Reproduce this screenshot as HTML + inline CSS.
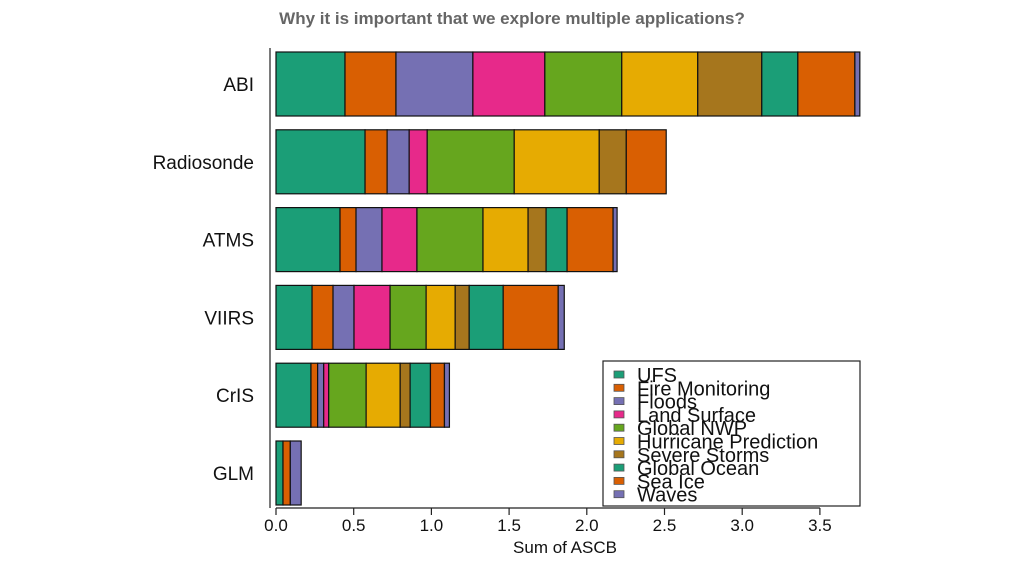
<!DOCTYPE html>
<html><head><meta charset="utf-8"><style>
body{margin:0;background:#fff;width:1024px;height:576px;overflow:hidden}
svg{display:block;font-family:"Liberation Sans",sans-serif}
</style></head><body>
<svg id="c" width="1024" height="576">
<text x="512" y="24" text-anchor="middle" font-size="17" font-weight="bold" fill="#666">Why it is important that we explore multiple applications?</text>
</svg>
<script>
const categories=["ABI","Radiosonde","ATMS","VIIRS","CrIS","GLM"];
const seriesNames=["UFS","Fire Monitoring","Floods","Land Surface","Global NWP","Hurricane Prediction","Severe Storms","Global Ocean","Sea Ice","Waves"];
const seriesColors=["#1b9e77","#d95f02","#7570b3","#e7298a","#66a61e","#e6ab02","#a6761d","#1b9e77","#d95f02","#7570b3"];
const abiVals=[0.444,0.328,0.495,0.463,0.495,0.489,0.412,0.232,0.367,0.032];
const radiosondeVals=[0.573,0.142,0.142,0.116,0.56,0.547,0.174,0,0.257,0];
const atmsVals=[0.412,0.103,0.167,0.225,0.425,0.29,0.116,0.135,0.296,0.026];
const viirsVals=[0.232,0.135,0.135,0.232,0.232,0.187,0.09,0.219,0.354,0.039];
const crisVals=[0.225,0.043,0.039,0.032,0.241,0.219,0.064,0.131,0.09,0.032];
const glmVals=[0.045,0,0,0,0,0,0,0,0.047,0.07];
const xTicks=[0,0.5,1,1.5,2,2.5,3,3.5];
const xTickLabels=["0.0","0.5","1.0","1.5","2.0","2.5","3.0","3.5"];
const allVals=[abiVals,radiosondeVals,atmsVals,viirsVals,crisVals,glmVals];
const svg=document.getElementById('c');const NS="http://www.w3.org/2000/svg";
const x=v=>276+v*155.4;
const yTop=i=>52+i*77.8;const bh=64;
function mk(t,a){const e=document.createElementNS(NS,t);for(const k in a)e.setAttribute(k,a[k]);svg.appendChild(e);return e;}
categories.forEach((c,i)=>{
  let acc=0;
  allVals[i].forEach((v,j)=>{
    if(v<=0)return;
    const r=mk('rect',{x:x(acc),y:yTop(i),width:x(acc+v)-x(acc),height:bh,fill:seriesColors[j],stroke:'#111','stroke-width':1.2});
    
    
    acc+=v;
  });
  const t=mk('text',{x:254,y:yTop(i)+bh/2+7,'text-anchor':'end','font-size':19,fill:'#111'});
  t.textContent=c;
  
  
});
const ya=mk('line',{x1:270,y1:48,x2:270,y2:508,stroke:'#222','stroke-width':1.2});


const xa=mk('line',{x1:x(0),y1:508,x2:x(3.5),y2:508,stroke:'#222','stroke-width':1.2});


xTicks.forEach((v,k)=>{
  const tk=mk('line',{x1:x(v),y1:508,x2:x(v),y2:515,stroke:'#222','stroke-width':1.2});
  
  
  const t=mk('text',{x:x(v),y:531,'text-anchor':'middle','font-size':17,fill:'#111'});
  t.textContent=xTickLabels[k];
  
  
});
const xt=mk('text',{x:565,y:553,'text-anchor':'middle','font-size':17,fill:'#111'});
xt.textContent="Sum of ASCB";


const lb=mk('rect',{x:603,y:361,width:257,height:145,fill:'#fff',stroke:'#222','stroke-width':1.2});


seriesNames.forEach((n,j)=>{
  const cy=374+j*13.3;
  const s=mk('rect',{x:614,y:cy-3,width:10,height:7,fill:seriesColors[j],stroke:'#555','stroke-width':0.8});
  
  
  const t=mk('text',{x:637,y:cy+8,'font-size':20,fill:'#111'});
  t.textContent=n;
  
  
});
</script>
</body></html>
